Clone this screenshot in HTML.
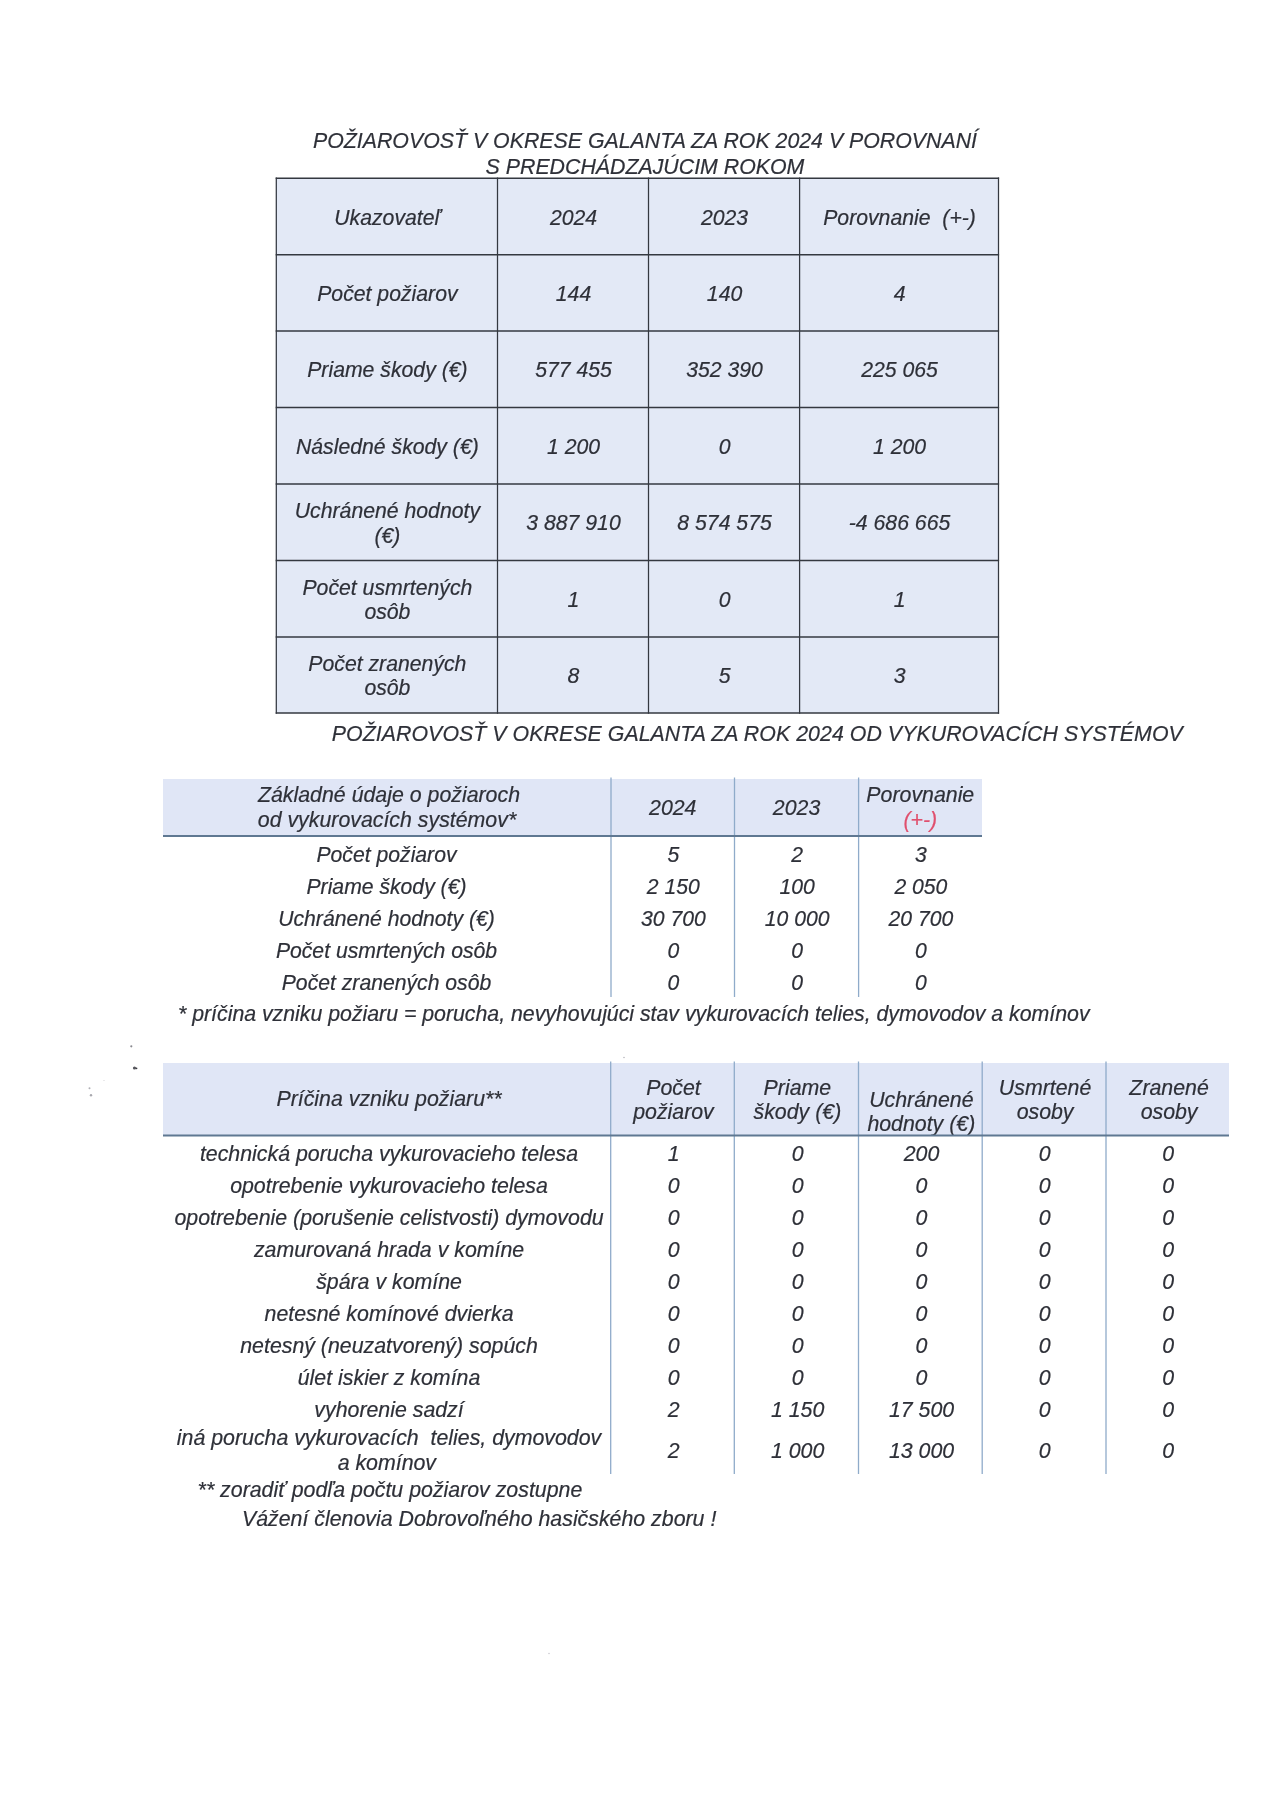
<!DOCTYPE html>
<html><head><meta charset="utf-8"><title>Požiarovosť</title>
<style>
html,body{margin:0;padding:0;background:#fff}
body{width:1273px;height:1800px;position:relative;overflow:hidden;font-family:"Liberation Sans",sans-serif;font-style:italic;font-size:21.33px;color:#2e3038;line-height:24.6px;-webkit-text-stroke:0.2px #2e3038}
.t1{line-height:25.8px}
.c{position:absolute;display:flex;align-items:center;justify-content:center;text-align:center;white-space:nowrap}
.c.l{justify-content:flex-start;text-align:left}
.r{position:absolute}
.ln{position:absolute;left:0;top:0}
.red{color:#e0506e;-webkit-text-stroke:0.2px #e0506e}
#pg{position:absolute;left:0;top:0;width:1273px;height:1800px;filter:blur(0.3px)}
</style></head><body><div id="pg">
<div class="c t1" style="left:200.0px;top:129.8px;width:890.0px;height:50.0px;"><span>POŽIAROVOSŤ V OKRESE GALANTA ZA ROK 2024 V POROVNANÍ<br>S PREDCHÁDZAJÚCIM ROKOM</span></div>
<div class="r " style="left:276.3px;top:178.2px;width:722.2px;height:534.8px;background:#e3e9f6"></div>
<div class="c " style="left:276.8px;top:179.6px;width:221.2px;height:76.5px;font-size:21.22px"><span>Ukazovateľ</span></div>
<div class="c " style="left:498.0px;top:179.6px;width:151.0px;height:76.5px;font-size:21.22px"><span>2024</span></div>
<div class="c " style="left:649.0px;top:179.6px;width:151.1px;height:76.5px;font-size:21.22px"><span>2023</span></div>
<div class="c " style="left:800.1px;top:179.6px;width:198.9px;height:76.5px;font-size:21.22px"><span>Porovnanie&nbsp; (+-)</span></div>
<div class="c " style="left:276.8px;top:256.1px;width:221.2px;height:76.3px;font-size:21.22px"><span>Počet požiarov</span></div>
<div class="c " style="left:498.0px;top:256.1px;width:151.0px;height:76.3px;font-size:21.22px"><span>144</span></div>
<div class="c " style="left:649.0px;top:256.1px;width:151.1px;height:76.3px;font-size:21.22px"><span>140</span></div>
<div class="c " style="left:800.1px;top:256.1px;width:198.9px;height:76.3px;font-size:21.22px"><span>4</span></div>
<div class="c " style="left:276.8px;top:332.4px;width:221.2px;height:76.5px;font-size:21.22px"><span>Priame škody (€)</span></div>
<div class="c " style="left:498.0px;top:332.4px;width:151.0px;height:76.5px;font-size:21.22px"><span>577 455</span></div>
<div class="c " style="left:649.0px;top:332.4px;width:151.1px;height:76.5px;font-size:21.22px"><span>352 390</span></div>
<div class="c " style="left:800.1px;top:332.4px;width:198.9px;height:76.5px;font-size:21.22px"><span>225 065</span></div>
<div class="c " style="left:276.8px;top:408.9px;width:221.2px;height:76.5px;font-size:21.22px"><span>Následné škody (€)</span></div>
<div class="c " style="left:498.0px;top:408.9px;width:151.0px;height:76.5px;font-size:21.22px"><span>1 200</span></div>
<div class="c " style="left:649.0px;top:408.9px;width:151.1px;height:76.5px;font-size:21.22px"><span>0</span></div>
<div class="c " style="left:800.1px;top:408.9px;width:198.9px;height:76.5px;font-size:21.22px"><span>1 200</span></div>
<div class="c " style="left:276.8px;top:485.4px;width:221.2px;height:76.5px;font-size:21.22px"><span>Uchránené hodnoty<br>(€)</span></div>
<div class="c " style="left:498.0px;top:485.4px;width:151.0px;height:76.5px;font-size:21.22px"><span>3 887 910</span></div>
<div class="c " style="left:649.0px;top:485.4px;width:151.1px;height:76.5px;font-size:21.22px"><span>8 574 575</span></div>
<div class="c " style="left:800.1px;top:485.4px;width:198.9px;height:76.5px;font-size:21.22px"><span>-4 686 665</span></div>
<div class="c " style="left:276.8px;top:561.9px;width:221.2px;height:76.5px;font-size:21.22px"><span>Počet usmrtených<br>osôb</span></div>
<div class="c " style="left:498.0px;top:561.9px;width:151.0px;height:76.5px;font-size:21.22px"><span>1</span></div>
<div class="c " style="left:649.0px;top:561.9px;width:151.1px;height:76.5px;font-size:21.22px"><span>0</span></div>
<div class="c " style="left:800.1px;top:561.9px;width:198.9px;height:76.5px;font-size:21.22px"><span>1</span></div>
<div class="c " style="left:276.8px;top:638.4px;width:221.2px;height:76.0px;font-size:21.22px"><span>Počet zranených<br>osôb</span></div>
<div class="c " style="left:498.0px;top:638.4px;width:151.0px;height:76.0px;font-size:21.22px"><span>8</span></div>
<div class="c " style="left:649.0px;top:638.4px;width:151.1px;height:76.0px;font-size:21.22px"><span>5</span></div>
<div class="c " style="left:800.1px;top:638.4px;width:198.9px;height:76.0px;font-size:21.22px"><span>3</span></div>
<div class="c " style="left:299.8px;top:716.4px;width:915.0px;height:36.0px;letter-spacing:0.05px"><span>POŽIAROVOSŤ V OKRESE GALANTA ZA ROK 2024 OD VYKUROVACÍCH SYSTÉMOV</span></div>
<div class="r " style="left:163.0px;top:778.5px;width:819.0px;height:57.5px;background:#e0e6f6"></div>
<div class="c " style="left:163.0px;top:779.1px;width:448.0px;height:57.5px;"><span><span style="padding-left:4px">Základné údaje o požiaroch</span><br>od vykurovacích systémov*</span></div>
<div class="c " style="left:611.0px;top:779.1px;width:123.5px;height:57.5px;"><span>2024</span></div>
<div class="c " style="left:734.5px;top:779.1px;width:124.1px;height:57.5px;"><span>2023</span></div>
<div class="c " style="left:858.6px;top:779.1px;width:123.4px;height:57.5px;"><span>Porovnanie<br><span class="red">(+-)</span></span></div>
<div class="c " style="left:162.5px;top:838.8px;width:448.0px;height:32.0px;font-size:21.18px"><span>Počet požiarov</span></div>
<div class="c " style="left:611.6px;top:838.8px;width:123.5px;height:32.0px;font-size:21.18px"><span>5</span></div>
<div class="c " style="left:735.1px;top:838.8px;width:124.1px;height:32.0px;font-size:21.18px"><span>2</span></div>
<div class="c " style="left:859.2px;top:838.8px;width:123.4px;height:32.0px;font-size:21.18px"><span>3</span></div>
<div class="c " style="left:162.5px;top:870.8px;width:448.0px;height:32.0px;font-size:21.18px"><span>Priame škody (€)</span></div>
<div class="c " style="left:611.6px;top:870.8px;width:123.5px;height:32.0px;font-size:21.18px"><span>2 150</span></div>
<div class="c " style="left:735.1px;top:870.8px;width:124.1px;height:32.0px;font-size:21.18px"><span>100</span></div>
<div class="c " style="left:859.2px;top:870.8px;width:123.4px;height:32.0px;font-size:21.18px"><span>2 050</span></div>
<div class="c " style="left:162.5px;top:902.8px;width:448.0px;height:32.0px;font-size:21.18px"><span>Uchránené hodnoty (€)</span></div>
<div class="c " style="left:611.6px;top:902.8px;width:123.5px;height:32.0px;font-size:21.18px"><span>30 700</span></div>
<div class="c " style="left:735.1px;top:902.8px;width:124.1px;height:32.0px;font-size:21.18px"><span>10 000</span></div>
<div class="c " style="left:859.2px;top:902.8px;width:123.4px;height:32.0px;font-size:21.18px"><span>20 700</span></div>
<div class="c " style="left:162.5px;top:934.8px;width:448.0px;height:32.0px;font-size:21.18px"><span>Počet usmrtených osôb</span></div>
<div class="c " style="left:611.6px;top:934.8px;width:123.5px;height:32.0px;font-size:21.18px"><span>0</span></div>
<div class="c " style="left:735.1px;top:934.8px;width:124.1px;height:32.0px;font-size:21.18px"><span>0</span></div>
<div class="c " style="left:859.2px;top:934.8px;width:123.4px;height:32.0px;font-size:21.18px"><span>0</span></div>
<div class="c " style="left:162.5px;top:966.8px;width:448.0px;height:32.0px;font-size:21.18px"><span>Počet zranených osôb</span></div>
<div class="c " style="left:611.6px;top:966.8px;width:123.5px;height:32.0px;font-size:21.18px"><span>0</span></div>
<div class="c " style="left:735.1px;top:966.8px;width:124.1px;height:32.0px;font-size:21.18px"><span>0</span></div>
<div class="c " style="left:859.2px;top:966.8px;width:123.4px;height:32.0px;font-size:21.18px"><span>0</span></div>
<div class="c l" style="left:178.0px;top:998.5px;width:917.0px;height:32.0px;letter-spacing:-0.02px"><span>* príčina vzniku požiaru = porucha, nevyhovujúci stav vykurovacích telies, dymovodov a komínov</span></div>
<div class="r " style="left:163.0px;top:1062.5px;width:1066.0px;height:73.0px;background:#e0e6f6"></div>
<div class="c " style="left:165.2px;top:1063.1px;width:447.7px;height:73.0px;"><span>Príčina vzniku požiaru**</span></div>
<div class="c " style="left:611.7px;top:1063.6px;width:123.6px;height:73.0px;"><span>Počet<br>požiarov</span></div>
<div class="c " style="left:735.3px;top:1063.6px;width:124.2px;height:73.0px;"><span>Priame<br>škody (€)</span></div>
<div class="c " style="left:859.5px;top:1075.9px;width:123.7px;height:73.0px;"><span>Uchránené<br>hodnoty (€)</span></div>
<div class="c " style="left:983.2px;top:1063.6px;width:123.8px;height:73.0px;"><span>Usmrtené<br>osoby</span></div>
<div class="c " style="left:1107.6px;top:1063.6px;width:123.0px;height:73.0px;"><span>Zranené<br>osoby</span></div>
<div class="c " style="left:165.2px;top:1138.1px;width:447.7px;height:32.0px;"><span>technická porucha vykurovacieho telesa</span></div>
<div class="c " style="left:611.9px;top:1138.1px;width:123.6px;height:32.0px;"><span>1</span></div>
<div class="c " style="left:735.5px;top:1138.1px;width:124.2px;height:32.0px;"><span>0</span></div>
<div class="c " style="left:859.7px;top:1138.1px;width:123.7px;height:32.0px;"><span>200</span></div>
<div class="c " style="left:982.7px;top:1138.1px;width:123.8px;height:32.0px;"><span>0</span></div>
<div class="c " style="left:1106.8px;top:1138.1px;width:123.0px;height:32.0px;"><span>0</span></div>
<div class="c " style="left:165.2px;top:1170.1px;width:447.7px;height:32.0px;"><span>opotrebenie vykurovacieho telesa</span></div>
<div class="c " style="left:611.9px;top:1170.1px;width:123.6px;height:32.0px;"><span>0</span></div>
<div class="c " style="left:735.5px;top:1170.1px;width:124.2px;height:32.0px;"><span>0</span></div>
<div class="c " style="left:859.7px;top:1170.1px;width:123.7px;height:32.0px;"><span>0</span></div>
<div class="c " style="left:982.7px;top:1170.1px;width:123.8px;height:32.0px;"><span>0</span></div>
<div class="c " style="left:1106.8px;top:1170.1px;width:123.0px;height:32.0px;"><span>0</span></div>
<div class="c " style="left:165.2px;top:1202.1px;width:447.7px;height:32.0px;"><span>opotrebenie (porušenie celistvosti) dymovodu</span></div>
<div class="c " style="left:611.9px;top:1202.1px;width:123.6px;height:32.0px;"><span>0</span></div>
<div class="c " style="left:735.5px;top:1202.1px;width:124.2px;height:32.0px;"><span>0</span></div>
<div class="c " style="left:859.7px;top:1202.1px;width:123.7px;height:32.0px;"><span>0</span></div>
<div class="c " style="left:982.7px;top:1202.1px;width:123.8px;height:32.0px;"><span>0</span></div>
<div class="c " style="left:1106.8px;top:1202.1px;width:123.0px;height:32.0px;"><span>0</span></div>
<div class="c " style="left:165.2px;top:1234.1px;width:447.7px;height:32.0px;"><span>zamurovaná hrada v komíne</span></div>
<div class="c " style="left:611.9px;top:1234.1px;width:123.6px;height:32.0px;"><span>0</span></div>
<div class="c " style="left:735.5px;top:1234.1px;width:124.2px;height:32.0px;"><span>0</span></div>
<div class="c " style="left:859.7px;top:1234.1px;width:123.7px;height:32.0px;"><span>0</span></div>
<div class="c " style="left:982.7px;top:1234.1px;width:123.8px;height:32.0px;"><span>0</span></div>
<div class="c " style="left:1106.8px;top:1234.1px;width:123.0px;height:32.0px;"><span>0</span></div>
<div class="c " style="left:165.2px;top:1266.1px;width:447.7px;height:32.0px;"><span>špára v komíne</span></div>
<div class="c " style="left:611.9px;top:1266.1px;width:123.6px;height:32.0px;"><span>0</span></div>
<div class="c " style="left:735.5px;top:1266.1px;width:124.2px;height:32.0px;"><span>0</span></div>
<div class="c " style="left:859.7px;top:1266.1px;width:123.7px;height:32.0px;"><span>0</span></div>
<div class="c " style="left:982.7px;top:1266.1px;width:123.8px;height:32.0px;"><span>0</span></div>
<div class="c " style="left:1106.8px;top:1266.1px;width:123.0px;height:32.0px;"><span>0</span></div>
<div class="c " style="left:165.2px;top:1298.1px;width:447.7px;height:32.0px;"><span>netesné komínové dvierka</span></div>
<div class="c " style="left:611.9px;top:1298.1px;width:123.6px;height:32.0px;"><span>0</span></div>
<div class="c " style="left:735.5px;top:1298.1px;width:124.2px;height:32.0px;"><span>0</span></div>
<div class="c " style="left:859.7px;top:1298.1px;width:123.7px;height:32.0px;"><span>0</span></div>
<div class="c " style="left:982.7px;top:1298.1px;width:123.8px;height:32.0px;"><span>0</span></div>
<div class="c " style="left:1106.8px;top:1298.1px;width:123.0px;height:32.0px;"><span>0</span></div>
<div class="c " style="left:165.2px;top:1330.1px;width:447.7px;height:32.0px;"><span>netesný (neuzatvorený) sopúch</span></div>
<div class="c " style="left:611.9px;top:1330.1px;width:123.6px;height:32.0px;"><span>0</span></div>
<div class="c " style="left:735.5px;top:1330.1px;width:124.2px;height:32.0px;"><span>0</span></div>
<div class="c " style="left:859.7px;top:1330.1px;width:123.7px;height:32.0px;"><span>0</span></div>
<div class="c " style="left:982.7px;top:1330.1px;width:123.8px;height:32.0px;"><span>0</span></div>
<div class="c " style="left:1106.8px;top:1330.1px;width:123.0px;height:32.0px;"><span>0</span></div>
<div class="c " style="left:165.2px;top:1362.1px;width:447.7px;height:32.0px;"><span>úlet iskier z komína</span></div>
<div class="c " style="left:611.9px;top:1362.1px;width:123.6px;height:32.0px;"><span>0</span></div>
<div class="c " style="left:735.5px;top:1362.1px;width:124.2px;height:32.0px;"><span>0</span></div>
<div class="c " style="left:859.7px;top:1362.1px;width:123.7px;height:32.0px;"><span>0</span></div>
<div class="c " style="left:982.7px;top:1362.1px;width:123.8px;height:32.0px;"><span>0</span></div>
<div class="c " style="left:1106.8px;top:1362.1px;width:123.0px;height:32.0px;"><span>0</span></div>
<div class="c " style="left:165.2px;top:1394.1px;width:447.7px;height:32.0px;"><span>vyhorenie sadzí</span></div>
<div class="c " style="left:611.9px;top:1394.1px;width:123.6px;height:32.0px;"><span>2</span></div>
<div class="c " style="left:735.5px;top:1394.1px;width:124.2px;height:32.0px;"><span>1 150</span></div>
<div class="c " style="left:859.7px;top:1394.1px;width:123.7px;height:32.0px;"><span>17 500</span></div>
<div class="c " style="left:982.7px;top:1394.1px;width:123.8px;height:32.0px;"><span>0</span></div>
<div class="c " style="left:1106.8px;top:1394.1px;width:123.0px;height:32.0px;"><span>0</span></div>
<div class="c " style="left:165.2px;top:1426.4px;width:447.7px;height:49.0px;"><span>iná porucha vykurovacích&nbsp; telies, dymovodov<br><span style="position:relative;left:-2.2px">a komínov</span></span></div>
<div class="c " style="left:611.9px;top:1426.4px;width:123.6px;height:49.0px;"><span>2</span></div>
<div class="c " style="left:735.5px;top:1426.4px;width:124.2px;height:49.0px;"><span>1 000</span></div>
<div class="c " style="left:859.7px;top:1426.4px;width:123.7px;height:49.0px;"><span>13 000</span></div>
<div class="c " style="left:982.7px;top:1426.4px;width:123.8px;height:49.0px;"><span>0</span></div>
<div class="c " style="left:1106.8px;top:1426.4px;width:123.0px;height:49.0px;"><span>0</span></div>
<div class="c l" style="left:197.6px;top:1474.5px;width:600.5px;height:32.0px;"><span>** zoradiť podľa počtu požiarov zostupne</span></div>
<div class="c l" style="left:242.0px;top:1503.2px;width:655.7px;height:32.0px;"><span>Vážení členovia Dobrovoľného hasičského zboru !</span></div>
<svg class="ln" width="1273" height="1800" viewBox="0 0 1273 1800">
<line x1="276.30" y1="177.50" x2="276.30" y2="713.70" stroke="#343840" stroke-width="1.25"/>
<line x1="497.50" y1="177.50" x2="497.50" y2="713.70" stroke="#343840" stroke-width="1.25"/>
<line x1="648.50" y1="177.50" x2="648.50" y2="713.70" stroke="#343840" stroke-width="1.25"/>
<line x1="799.60" y1="177.50" x2="799.60" y2="713.70" stroke="#343840" stroke-width="1.25"/>
<line x1="998.50" y1="177.50" x2="998.50" y2="713.70" stroke="#343840" stroke-width="1.25"/>
<line x1="275.70" y1="178.20" x2="999.10" y2="178.20" stroke="#343840" stroke-width="1.5"/>
<line x1="275.70" y1="254.70" x2="999.10" y2="254.70" stroke="#343840" stroke-width="1.5"/>
<line x1="275.70" y1="331.00" x2="999.10" y2="331.00" stroke="#343840" stroke-width="1.5"/>
<line x1="275.70" y1="407.50" x2="999.10" y2="407.50" stroke="#343840" stroke-width="1.5"/>
<line x1="275.70" y1="484.00" x2="999.10" y2="484.00" stroke="#343840" stroke-width="1.5"/>
<line x1="275.70" y1="560.50" x2="999.10" y2="560.50" stroke="#343840" stroke-width="1.5"/>
<line x1="275.70" y1="637.00" x2="999.10" y2="637.00" stroke="#343840" stroke-width="1.5"/>
<line x1="275.70" y1="713.00" x2="999.10" y2="713.00" stroke="#343840" stroke-width="1.5"/>
<line x1="611.00" y1="777.50" x2="611.00" y2="997.00" stroke="#8fabca" stroke-width="1.3"/>
<line x1="734.50" y1="777.50" x2="734.50" y2="997.00" stroke="#8fabca" stroke-width="1.3"/>
<line x1="858.60" y1="777.50" x2="858.60" y2="997.00" stroke="#8fabca" stroke-width="1.3"/>
<line x1="163.00" y1="836.00" x2="982.00" y2="836.00" stroke="#5f7892" stroke-width="1.9"/>
<line x1="610.70" y1="1061.50" x2="610.70" y2="1474.00" stroke="#8fabca" stroke-width="1.3"/>
<line x1="734.30" y1="1061.50" x2="734.30" y2="1474.00" stroke="#8fabca" stroke-width="1.3"/>
<line x1="858.50" y1="1061.50" x2="858.50" y2="1474.00" stroke="#8fabca" stroke-width="1.3"/>
<line x1="982.20" y1="1061.50" x2="982.20" y2="1474.00" stroke="#8fabca" stroke-width="1.3"/>
<line x1="1106.00" y1="1061.50" x2="1106.00" y2="1474.00" stroke="#8fabca" stroke-width="1.3"/>
<line x1="163.00" y1="1135.50" x2="1229.00" y2="1135.50" stroke="#5f7892" stroke-width="1.9"/>
<circle cx="131.3" cy="1046.3" r="1.1" fill="#8a8a90"/>
<circle cx="134.5" cy="1068" r="1.6" fill="#55555c"/>
<circle cx="136.5" cy="1068.3" r="0.9" fill="#3a3a40"/>
<circle cx="89.5" cy="1088.3" r="1.0" fill="#b0b0b6"/>
<circle cx="91" cy="1095.3" r="1.2" fill="#a8a8ae"/>
<circle cx="104" cy="1080.5" r="0.6" fill="#d0d0d4"/>
<circle cx="549" cy="1653.5" r="0.7" fill="#c0c0c6"/>
<circle cx="624" cy="1057.5" r="0.8" fill="#b8b8be"/>
</svg>
</div></body></html>
